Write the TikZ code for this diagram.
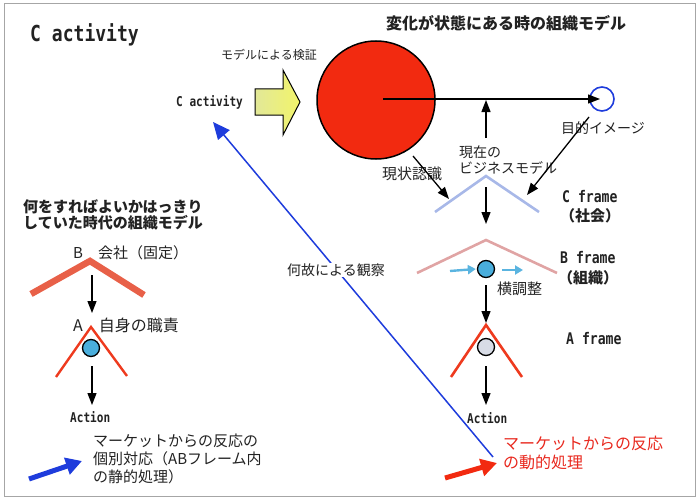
\documentclass[tikz,border=0pt]{standalone}
\usepackage{fontspec}
\setmainfont{Noto Sans CJK JP}
\newfontfamily\latin[FakeStretch=0.82]{DejaVu Sans Mono}
\usetikzlibrary{arrows.meta}
\definecolor{bigred}{HTML}{F22A10}
\definecolor{fblue}{HTML}{1E3CDC}
\definecolor{cframe}{HTML}{A8B8E8}
\definecolor{bframe}{HTML}{E0A4A4}
\definecolor{aframe}{HTML}{EE3A1E}
\definecolor{bthick}{HTML}{E86048}
\definecolor{ballblue}{HTML}{4AAEDC}
\definecolor{ballgray}{HTML}{D8DCE6}
\definecolor{lightarr}{HTML}{5AB4E0}
\definecolor{txt}{HTML}{222222}
\definecolor{redtxt}{HTML}{E8281E}
\definecolor{yelL}{HTML}{E2E898}
\definecolor{yelR}{HTML}{F2F46A}
\tikzset{
  lbl/.style={inner sep=0pt, anchor=west, text=txt},
  jp/.style={lbl, font=\fontsize{#1}{#1}\selectfont},
  jpb/.style={lbl, font=\bfseries\fontsize{#1}{#1}\selectfont},
  lat/.style={lbl, font=\latin\bfseries\fontsize{#1}{#1}\selectfont},
  arr/.style={draw=black, line width=1.3pt, -{Triangle[length=12pt,width=9pt]}},
  ball/.style={circle, draw=black, line width=1.3pt, minimum size=17pt, inner sep=0pt},
  chev/.style={line width=2.6pt, line join=miter},
  fatarr/.style={line width=5pt, -{Triangle[length=16pt,width=17pt]}},
}
\begin{document}
\begin{tikzpicture}[x=1pt,y=-1pt]
\useasboundingbox (0,0) rectangle (700,500);
\draw[gray!70, line width=1pt] (4,4) rectangle (695,496);

% titles
\node[lat=22] (title) at (30,35) {C activity};
\node[jpb=16] (rtitle) at (386,23) {変化が状態にある時の組織モデル};
\node[jpb=15, align=left, font=\bfseries\fontsize{15}{16.5}\selectfont] (ltitle) at (23,215)
  {何をすればよいかはっきり\\していた時代の組織モデル};

% C activity block arrow
\node[lat=13.5] (cact) at (176,102) {C activity};
\node[jp=12] (verify) at (221,55) {モデルによる検証};
\path[draw=black, line width=1pt, left color=yelL, right color=yelR]
  (255,89) -- (283,89) -- (283,70) -- (300,102) -- (283,135) -- (283,115) -- (255,115) -- cycle;

% big circle and goal
\node[circle, draw=black, line width=1.5pt, fill=bigred, minimum size=118pt, inner sep=0pt] (big) at (376,100) {};
\node[circle, draw=fblue, line width=1.6pt, fill=white, minimum size=24pt, inner sep=0pt] (goal) at (602,99) {};
\draw[arr] ([xshift=7pt]big.center |- goal.center) -- ([xshift=-2pt]goal.center);

% current business model
\coordinate (upS) at (486,138);
\coordinate (upE) at (486,100);
\draw[arr] (upS) -- (upE);
\node[jp=14, align=left, font=\fontsize{14}{15.5}\selectfont] (biz) at (459,160) {現在の\\ビジネスモデル};
\node[jp=15] (recog) at (382,174) {現状認識};
\coordinate (recS) at (413,156);
\coordinate (recE) at (449,199);
\draw[arr] (recS) -- (recE);
\node[jp=14] (image) at (561,128) {目的イメージ};
\coordinate (imgS) at (589,117);
\coordinate (imgE) at (527,195);
\draw[arr] (imgS) -- (imgE);

% C frame
\coordinate (cL) at (435,212);
\coordinate (cA) at (486,176);
\coordinate (cR) at (539,212);
\draw[chev, cframe] (cL) -- (cA) -- (cR);
\node[lat=16] (cfr) at (562,197) {C frame};
\node[jpb=15] (cfr2) at (560,216) {（社会）};
\coordinate (d1S) at (486,187);
\coordinate (d1E) at (486,224);
\draw[arr] (d1S) -- (d1E);

% B frame
\coordinate (bL) at (417,273);
\coordinate (bA) at (486,240);
\coordinate (bR) at (557,273);
\draw[chev, bframe] (bL) -- (bA) -- (bR);
\node[ball, fill=ballblue] (bball) at (486,269) {};
\coordinate (la1) at (450,271);
\coordinate (la2) at (502,270);
\draw[line width=2.4pt, lightarr, -{Triangle[length=8pt,width=9pt]}] (la1) -- ([xshift=-1pt]bball.west);
\draw[line width=2.4pt, lightarr, -{Triangle[length=8pt,width=9pt]}] (la2) -- ++(21,0);
\node[jp=15] (yoko) at (497,289) {横調整};
\node[lat=16] (bfr) at (560,258) {B frame};
\node[jpb=15] (bfr2) at (558,278) {（組織）};
\coordinate (d2S) at (486,285);
\coordinate (d2E) at (486,323);
\draw[arr] (d2S) -- (d2E);

% A frame
\coordinate (aL) at (451,377);
\coordinate (aA) at (486,325);
\coordinate (aR) at (522,377);
\draw[chev, aframe] (aL) -- (aA) -- (aR);
\node[ball, fill=ballgray] (aball) at (486,347) {};
\node[lat=16] (afr) at (566,339) {A frame};
\coordinate (d3S) at (486,366);
\coordinate (d3E) at (486,405);
\draw[arr] (d3S) -- (d3E);
\node[lat=13.5] (actR) at (467,418) {Action};

% red text and arrow
\node[jp=16, align=left, text=redtxt, font=\fontsize{16}{19}\selectfont] (redt) at (503,453) {マーケットからの反応\\の動的処理};
\coordinate (raS) at (445,478);
\coordinate (raE) at (497,463);
\draw[fatarr, bigred] (raS) -- (raE);

% long blue observation arrow
\coordinate (obS) at (493,457);
\coordinate (obE) at (213,122);
\draw[fblue, line width=1.5pt, -{Triangle[length=17pt,width=15pt]}] (obS) -- (obE);
\node[jp=14, fill=white, inner ysep=1pt] (obs) at (287,270) {何故による観察};

% left model
\node[lbl, font=\fontsize{15}{15}\selectfont] (bco) at (73,253) {B\hspace{15pt}会社（固定）};
\coordinate (lbL) at (31,294);
\coordinate (lbA) at (90,261);
\coordinate (lbR) at (144,295);
\draw[line width=6.5pt, bthick] (lbL) -- (lbA) -- (lbR);
\coordinate (l1S) at (92,275);
\coordinate (l1E) at (92,313);
\draw[arr] (l1S) -- (l1E);
\node[lbl, font=\fontsize{16}{16}\selectfont] (aself) at (73,325) {A\hspace{16pt}自身の職責};
\coordinate (laL) at (56,377);
\coordinate (laA) at (91,327);
\coordinate (laR) at (127,376);
\draw[line width=2.4pt, aframe] (laL) -- (laA) -- (laR);
\node[ball, fill=ballblue] (lball) at (91,348) {};
\coordinate (l2S) at (92,366);
\coordinate (l2E) at (92,405);
\draw[arr] (l2S) -- (l2E);
\node[lat=13.5] (actL) at (70,417) {Action};
\node[jp=15, align=left, font=\fontsize{15}{18}\selectfont] (stat) at (93,459)
  {マーケットからの反応の\\個別対応（ABフレーム内\\の静的処理）};
\coordinate (baS) at (29,479);
\coordinate (baE) at (82,461);
\draw[fatarr, fblue] (baS) -- (baE);
\end{tikzpicture}
\end{document}
